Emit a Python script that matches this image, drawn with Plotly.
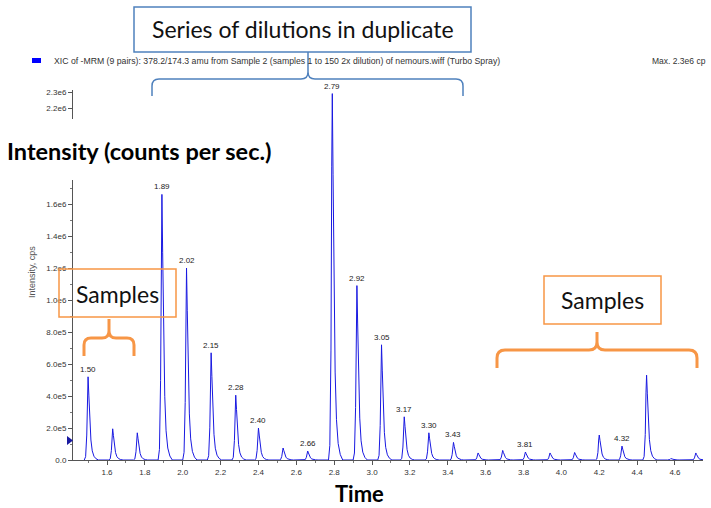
import plotly.graph_objects as go

# ---------------- data ----------------
peak_rt = [1.50, 1.63, 1.76, 1.89, 2.02, 2.15, 2.28, 2.40, 2.53, 2.66, 2.79, 2.92, 3.05,
           3.17, 3.30, 3.43, 3.56, 3.69, 3.81, 3.94, 4.07, 4.20, 4.32, 4.45, 4.58, 4.71]
peak_height = [5.2e5, 1.95e5, 1.7e5, 1.66e6, 1.2e6, 6.7e5, 4.05e5, 2.0e5, 7.5e4, 5.6e4,
               2.29e6, 1.09e6, 7.2e5, 2.7e5, 1.7e5, 1.1e5, 4.4e4, 6.0e4, 5.0e4, 4.4e4,
               4.7e4, 1.56e5, 8.7e4, 5.3e5, 1.0e4, 4.4e4]
labeled_peaks = ["1.50", "1.89", "2.02", "2.15", "2.28", "2.40", "2.66", "2.79", "2.92",
                 "3.05", "3.17", "3.30", "3.43", "3.81", "4.32"]
# tailing peak profile (time offset from apex, fraction of apex height)
profile_dt = [-0.02, -0.013, -0.007, -0.003, 0.0, 0.004, 0.009, 0.015, 0.022, 0.031, 0.042, 0.055]
profile_rel = [0.0, 0.04, 0.3, 0.8, 1.0, 0.78, 0.45, 0.24, 0.11, 0.045, 0.015, 0.0]

y_tickvals = [0, 2e5, 4e5, 6e5, 8e5, 1.0e6, 1.2e6, 1.4e6, 1.6e6, 2.2e6, 2.3e6]
y_ticktext = ["0.0", "2.0e5", "4.0e5", "6.0e5", "8.0e5", "1.0e6", "1.2e6", "1.4e6", "1.6e6", "2.2e6", "2.3e6"]
x_tickvals = [1.6, 1.8, 2.0, 2.2, 2.4, 2.6, 2.8, 3.0, 3.2, 3.4, 3.6, 3.8, 4.0, 4.2, 4.4, 4.6]

legend_text = "XIC of -MRM (9 pairs): 378.2/174.3 amu from Sample 2 (samples 1 to 150 2x dilution) of nemours.wiff (Turbo Spray)"
max_text = "Max. 2.3e6 cp"

# ---------------- build trace ----------------
xs, ys = [], []
for rt, h in zip(peak_rt, peak_height):
    for dt, r in zip(profile_dt, profile_rel):
        xs.append(rt + dt)
        ys.append(h * r)

# ---------------- geometry helpers (pixel -> paper) ----------------
W, H = 711, 508
L, R, T, B = 73, 703, 90, 460
def px(x):
    return (x - L) / (R - L)
def py(y):
    return (B - y) / (B - T)

fig = go.Figure()
fig.add_trace(go.Scatter(x=xs, y=ys, mode="lines",
                         line=dict(color="rgb(25,25,225)", width=1),
                         hoverinfo="skip", showlegend=False))

blue = "#4f81bd"
orange = "#f79646"
shapes = []
# white mask hiding part of y axis behind bold label
shapes.append(dict(type="rect", xref="paper", yref="paper", layer="above",
                   x0=px(0), x1=px(300), y0=py(180), y1=py(119),
                   fillcolor="white", line=dict(width=0)))
# title box
shapes.append(dict(type="rect", xref="paper", yref="paper", layer="above",
                   x0=px(134), x1=px(471), y0=py(52), y1=py(7),
                   fillcolor="white", line=dict(color=blue, width=1.5)))

def brace(xl, xr, xc, ybar, yend, ytip, r):
    pts = (f"M {px(xl)},{py(yend)} L {px(xl)},{py(ybar + r)} "
           f"Q {px(xl)},{py(ybar)} {px(xl + r)},{py(ybar)} "
           f"L {px(xc - r)},{py(ybar)} Q {px(xc)},{py(ybar)} {px(xc)},{py(ybar - r)} "
           f"L {px(xc)},{py(ytip)} M {px(xc)},{py(ybar - r)} "
           f"Q {px(xc)},{py(ybar)} {px(xc + r)},{py(ybar)} "
           f"L {px(xr - r)},{py(ybar)} Q {px(xr)},{py(ybar)} {px(xr)},{py(ybar + r)} "
           f"L {px(xr)},{py(yend)}")
    return pts

shapes.append(dict(type="path", xref="paper", yref="paper", layer="above",
                   path=brace(152, 463, 308, 79, 96, 52, 7),
                   line=dict(color=blue, width=1.5)))
# left samples box + brace
shapes.append(dict(type="rect", xref="paper", yref="paper", layer="above",
                   x0=px(59), x1=px(176), y0=py(317), y1=py(269),
                   line=dict(color=orange, width=1.5)))
shapes.append(dict(type="path", xref="paper", yref="paper", layer="above",
                   path=brace(84, 134, 109, 338, 356, 319, 7),
                   line=dict(color=orange, width=3)))
# right samples box + brace
shapes.append(dict(type="rect", xref="paper", yref="paper", layer="above",
                   x0=px(544), x1=px(661), y0=py(324), y1=py(276),
                   line=dict(color=orange, width=1.5)))
shapes.append(dict(type="path", xref="paper", yref="paper", layer="above",
                   path=brace(497, 697, 597, 350, 368, 332, 8),
                   line=dict(color=orange, width=3)))
# legend swatch
shapes.append(dict(type="rect", xref="paper", yref="paper", layer="above",
                   x0=px(32), x1=px(41), y0=py(63), y1=py(58),
                   fillcolor="#0000ff", line=dict(width=0)))
# small triangle marker on y axis
shapes.append(dict(type="path", xref="paper", yref="paper", layer="above",
                   path=f"M {px(67)},{py(436)} L {px(73)},{py(440.5)} L {px(67)},{py(445)} Z",
                   fillcolor="#1a1aa0", line=dict(width=0)))

ann = []
for lab in labeled_peaks:
    i = [f"{v:.2f}" for v in peak_rt].index(lab)
    ann.append(dict(x=peak_rt[i], y=peak_height[i], xref="x", yref="y", text=lab,
                    showarrow=False, xanchor="center", yanchor="bottom", yshift=1,
                    font=dict(family="Liberation Sans, Arial", size=8, color="#222")))

big = "Lato, Carlito, Calibri, sans-serif"
small = "Liberation Sans, Arial"

def txt(x, y, text, font, xanchor="center", **kw):
    d = dict(x=px(x), y=py(y), xref="paper", yref="paper", text=text, showarrow=False,
             xanchor=xanchor, yanchor="middle", font=font)
    d.update(kw)
    return d

ann += [
    txt(302.5, 29, "Series of dilutions in duplicate", dict(family=big, size=23, color="#111")),
    txt(5, 151, "<b>Intensity (counts per sec.)</b>", dict(family=big, size=23.5, color="#000"),
        xanchor="left"),
    txt(117.5, 294, "Samples", dict(family=big, size=23, color="#111")),
    txt(602.5, 300, "Samples", dict(family=big, size=23, color="#111")),
    txt(359, 493, "<b>Time</b>", dict(family=big, size=22, color="#000")),
    txt(52, 61, legend_text, dict(family=small, size=8.7, color="#333"), xanchor="left"),
    txt(650, 61, max_text, dict(family=small, size=8.5, color="#333"), xanchor="left"),
    txt(32, 272, "Intensity, cps", dict(family=small, size=9, color="#555"), textangle=-90),
]

fig.update_layout(
    width=W, height=H,
    margin=dict(l=L, r=W - R, t=T, b=H - B, pad=0),
    paper_bgcolor="white", plot_bgcolor="white",
    shapes=shapes, annotations=ann, showlegend=False,
    xaxis=dict(range=[1.4204, 4.748], tickvals=x_tickvals,
               ticktext=[f"{v:.1f}" for v in x_tickvals],
               showgrid=False, zeroline=False, showline=True, linecolor="#555", linewidth=1,
               ticks="outside", ticklen=4, tickcolor="#555",
               minor=dict(dtick=0.1, tick0=1.6, ticks="outside", ticklen=2, tickcolor="#777"),
               tickfont=dict(family=small, size=8, color="#333")),
    yaxis=dict(range=[0, 2.3125e6], tickvals=y_tickvals, ticktext=y_ticktext,
               showgrid=False, zeroline=False, showline=True, linecolor="#555", linewidth=1,
               ticks="outside", ticklen=4, tickcolor="#555",
               minor=dict(dtick=1e5, tick0=0, ticks="outside", ticklen=2, tickcolor="#777"),
               tickfont=dict(family=small, size=8, color="#333")),
)

fig.write_html("out.html", config={"displayModeBar": False},
               post_script="document.body.style.margin='0';document.body.style.overflow='hidden';")
